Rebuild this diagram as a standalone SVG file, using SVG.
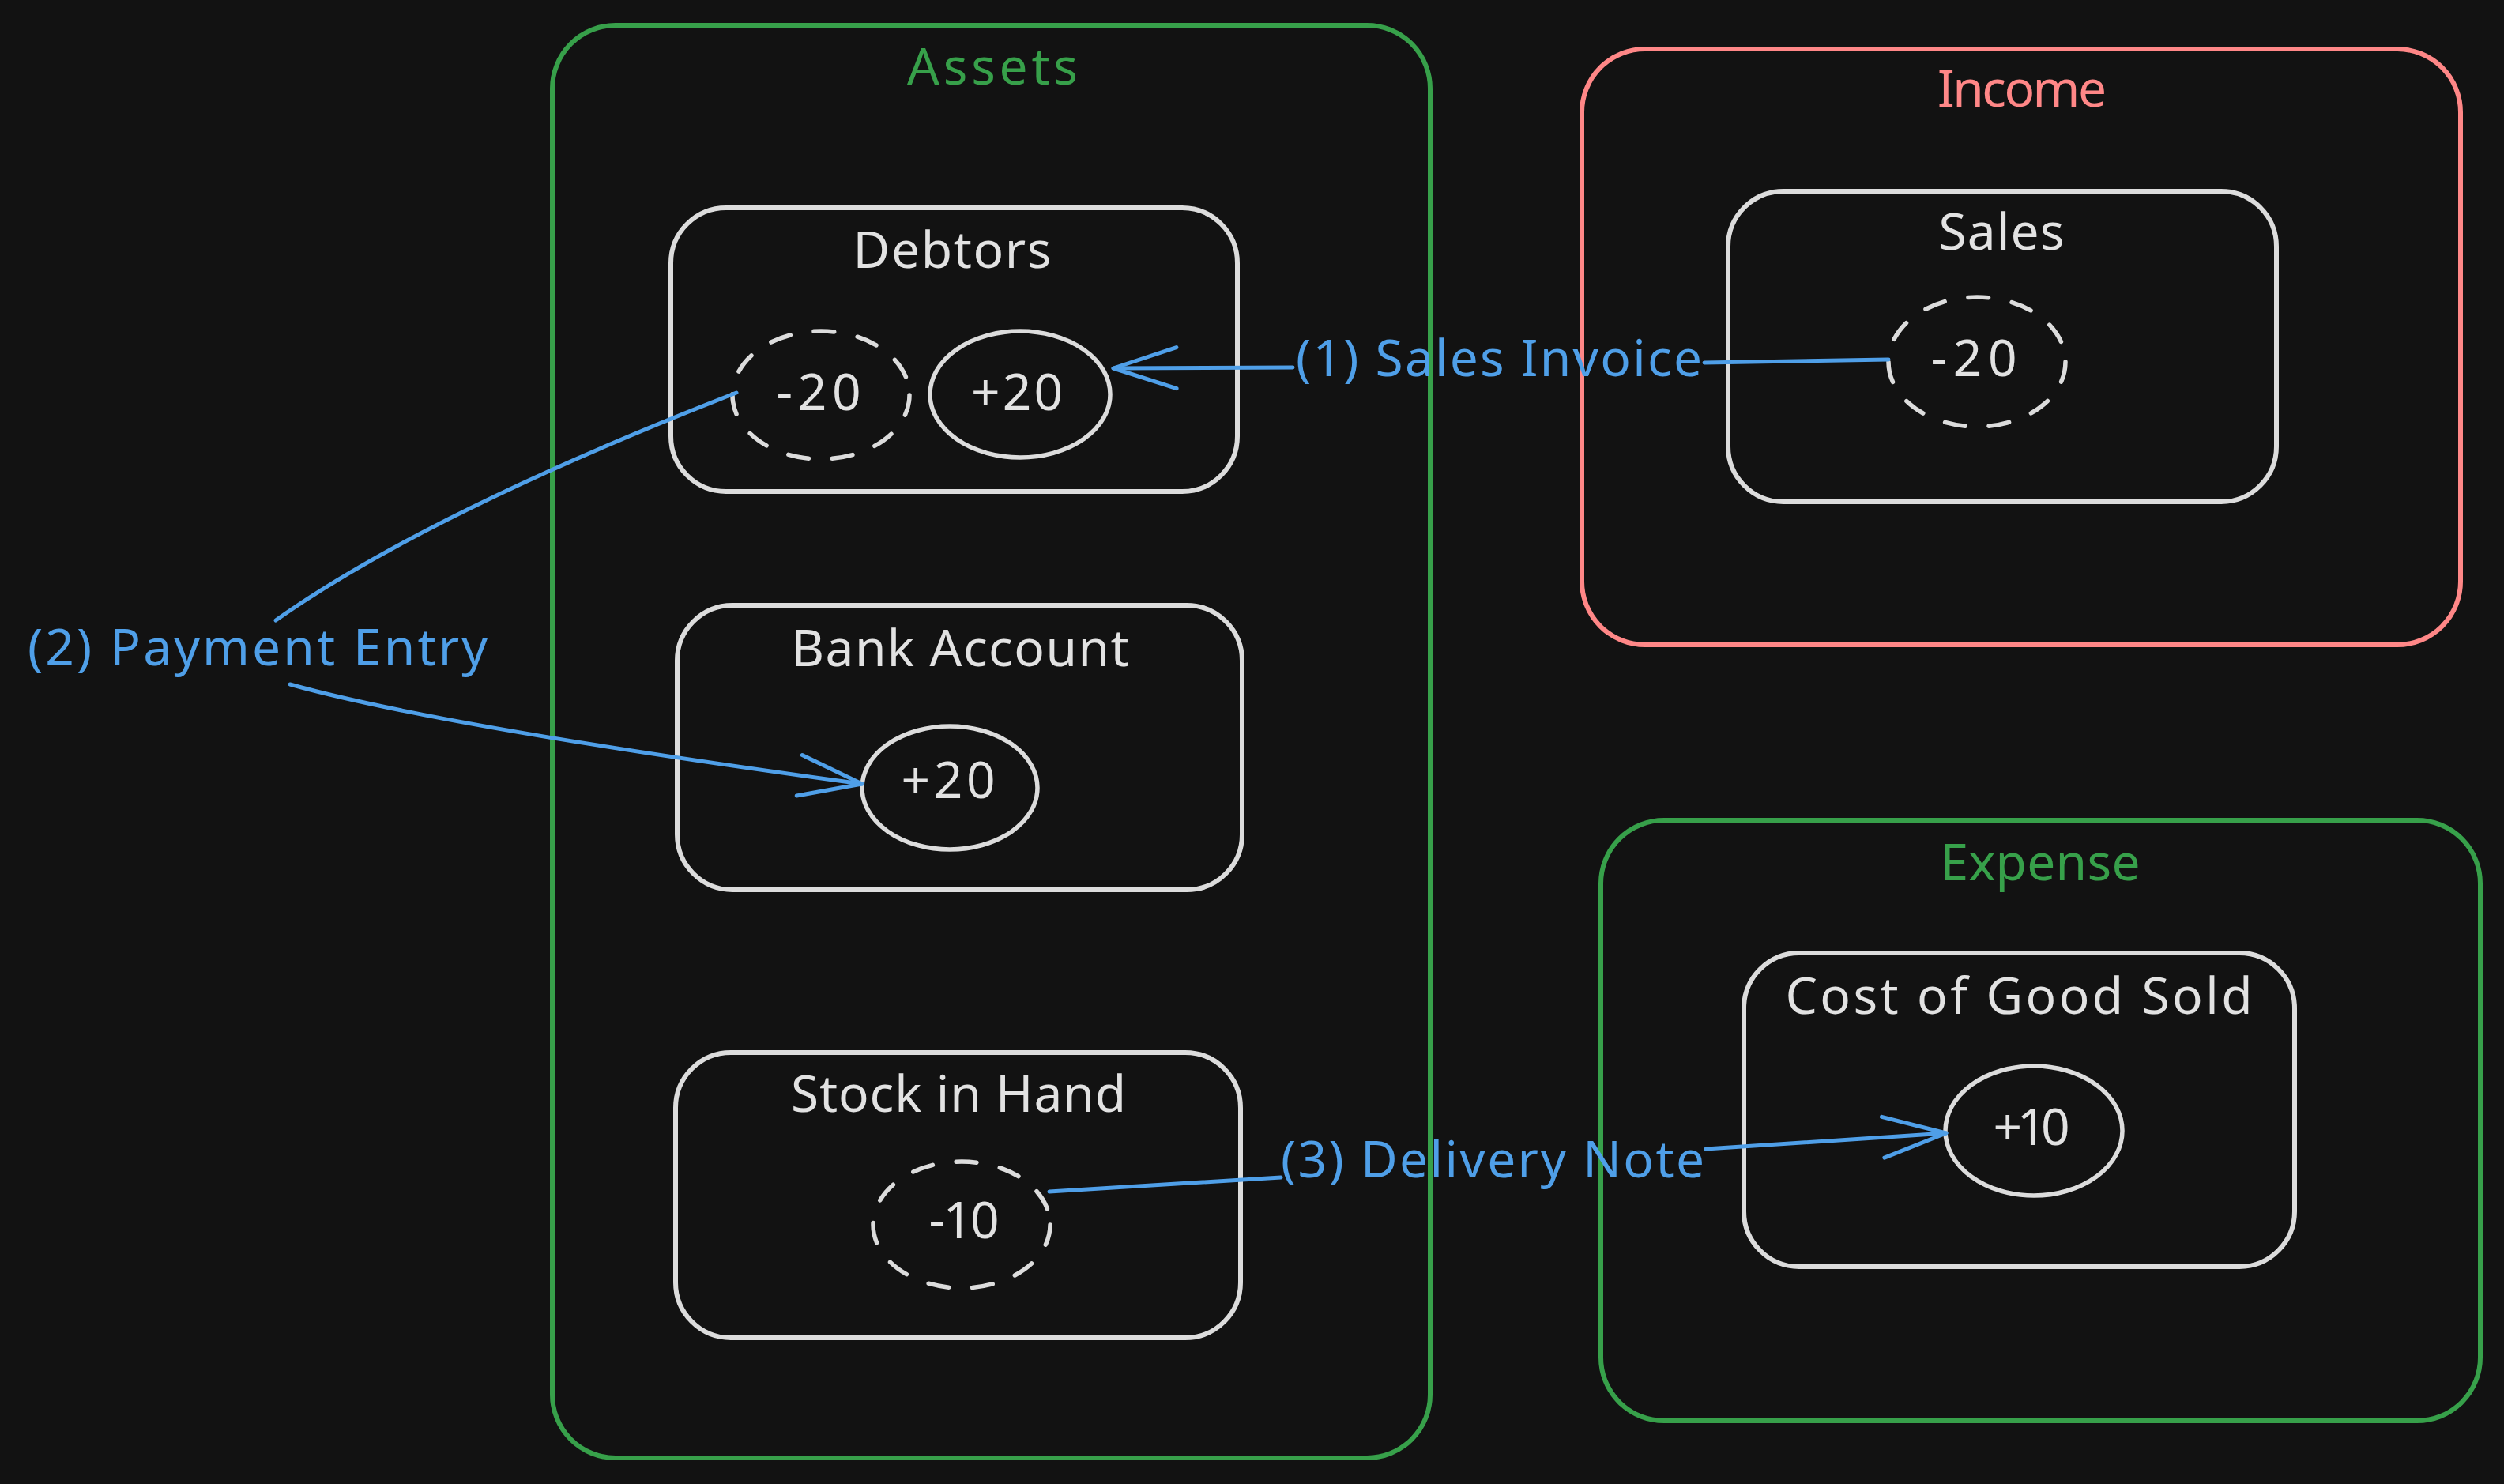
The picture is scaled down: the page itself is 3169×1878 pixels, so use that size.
<svg xmlns="http://www.w3.org/2000/svg" width="3169" height="1878" viewBox="0 0 3169 1878">
<style>
.bg{fill:#121212}
.grp-green{fill:none;stroke:#37a04a;stroke-width:6}
.grp-red{fill:none;stroke:#ff8787;stroke-width:6}
.acct{fill:none;stroke:#dcdcdc;stroke-width:6}
.bal{fill:none;stroke:#dcdcdc;stroke-width:5.5}
.bal-d{fill:none;stroke:#dcdcdc;stroke-width:5.5;stroke-dasharray:26 30;stroke-linecap:round}
.t{font-family:"Noto Sans","DejaVu Sans",sans-serif;font-size:64px;text-anchor:middle}
.tw{fill:#e2e2e2}
.tg{fill:#37a04a}
.tr{fill:#ff8787}
.tb{fill:#4f9fe8}
.conn{fill:none;stroke:#4f9fe8;stroke-width:5;stroke-linecap:round}
</style>
<defs>
<marker id="arrow" markerUnits="userSpaceOnUse" orient="auto" refX="0" refY="0" markerWidth="200" markerHeight="200" overflow="visible">
<path d="M -80 -26 L 0 0 L -80 26" fill="none" stroke="#4f9fe8" stroke-width="5" stroke-linecap="round" stroke-linejoin="round"/>
</marker>
</defs>
<rect class="bg" x="0" y="0" width="3169" height="1878"/>

<g id="assets">
<rect class="grp-green" x="699" y="32" width="1111" height="1813" rx="80"/>
<text class="t tg" x="1256" y="107" textLength="216">Assets</text>
</g>
<g id="debtors">
<rect class="acct" x="849" y="263" width="717" height="359" rx="70"/>
<text class="t tw" x="1205" y="339" textLength="251">Debtors</text>
</g>
<g id="debtors-minus20">
<ellipse class="bal-d" cx="1039" cy="500" rx="112" ry="81"/>
<text class="t tw" x="1036" y="519" textLength="107">-20</text>
</g>
<g id="debtors-plus20">
<ellipse class="bal" cx="1291" cy="499" rx="114" ry="80"/>
<text class="t tw" x="1287" y="519" textLength="116">+20</text>
</g>
<g id="bank-account">
<rect class="acct" x="857" y="766" width="715" height="360" rx="70"/>
<text class="t tw" x="1215" y="843" textLength="427">Bank Account</text>
</g>
<g id="bank-plus20">
<ellipse class="bal" cx="1202" cy="997" rx="111" ry="78"/>
<text class="t tw" x="1200" y="1010" textLength="119">+20</text>
</g>
<g id="stock-in-hand">
<rect class="acct" x="855" y="1332" width="715" height="361" rx="70"/>
<text class="t tw" x="1213" y="1407" textLength="424">Stock in Hand</text>
</g>
<g id="stock-minus10">
<ellipse class="bal-d" cx="1217" cy="1550" rx="112" ry="80"/>
<text class="t tw" x="1220" y="1567" textLength="89">-10</text>
</g>

<g id="income">
<rect class="grp-red" x="2002" y="62" width="1112" height="754" rx="80"/>
<text class="t tr" x="2559" y="135" textLength="214">Income</text>
</g>
<g id="sales">
<rect class="acct" x="2187" y="242" width="694" height="393" rx="70"/>
<text class="t tw" x="2533" y="316" textLength="159">Sales</text>
</g>
<g id="sales-minus20">
<ellipse class="bal-d" cx="2502" cy="458" rx="112" ry="82"/>
<text class="t tw" x="2498" y="476" textLength="109">-20</text>
</g>

<g id="expense">
<rect class="grp-green" x="2026" y="1038" width="1113" height="760" rx="80"/>
<text class="t tg" x="2582" y="1114" textLength="253">Expense</text>
</g>
<g id="cogs">
<rect class="acct" x="2207" y="1206" width="697" height="397" rx="70"/>
<text class="t tw" x="2555" y="1283" textLength="591">Cost of Good Sold</text>
</g>
<g id="cogs-plus10">
<ellipse class="bal" cx="2574" cy="1431" rx="112" ry="82"/>
<text class="t tw" x="2571" y="1449" textLength="97">+10</text>
</g>

<g id="connectors">
<g id="sales-invoice">
<path class="conn" d="M 2390 455 L 2157 459"/>
<path class="conn" d="M 1636 465 L 1409 466" marker-end="url(#arrow)"/>
<text class="t tb" x="1897" y="476" textLength="514">(1) Sales Invoice</text>
</g>
<g id="payment-entry">
<path class="conn" d="M 349 785 Q 540 650 932 497"/>
<path class="conn" d="M 367 866 Q 560 920 1091 992" marker-end="url(#arrow)"/>
<text class="t tb" x="326" y="842" textLength="582">(2) Payment Entry</text>
</g>
<g id="delivery-note">
<path class="conn" d="M 1328 1508 L 1621 1490"/>
<path class="conn" d="M 2159 1454 L 2463 1434" marker-end="url(#arrow)"/>
<text class="t tb" x="1889" y="1490" textLength="536">(3) Delivery Note</text>
</g>
</g>
</svg>
